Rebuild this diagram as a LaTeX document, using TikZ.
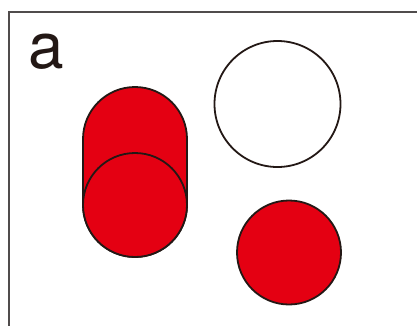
\documentclass[tikz,border=0pt]{standalone}
\usepackage{fontspec}
\setmainfont{TeX Gyre Heros}
\definecolor{fred}{RGB}{228,0,18}
\definecolor{fline}{RGB}{35,24,21}
\definecolor{fframe}{RGB}{80,76,76}
\begin{document}
\begin{tikzpicture}[x=1pt,y=-1pt,
  disc/.style={draw=fline,line width=1.8pt},
  reddisc/.style={disc,fill=fred},
  label/.style={font=\fontsize{64}{64}\selectfont,text=fline,inner sep=0pt,anchor=base west}]
\useasboundingbox (0,0) rectangle (417,325);
\clip (0,0) rectangle (417,325);
\fill[white] (0,0) rectangle (417,325);
\draw[fframe,line width=2pt] (9,12) rectangle (440,350);
\node[label] (lbl) at (28.6,68) {a};
% capsule
\draw[reddisc] (83,139) arc[start angle=180,end angle=360,radius=52]
  -- (187,205) arc[start angle=0,end angle=180,radius=52] -- cycle;
\draw[reddisc] (135,205) circle[radius=52];
% white circle
\draw[disc,fill=white] (277.5,104) circle[radius=63];
% red circle
\draw[reddisc] (289,252.5) circle[radius=52];
\end{tikzpicture}
\end{document}
